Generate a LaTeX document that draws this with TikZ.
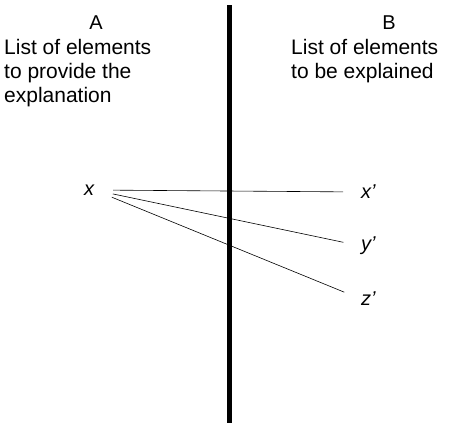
\documentclass[tikz,border=0pt]{standalone}
\usepackage{fontspec}
\setmainfont{Liberation Sans}
\usetikzlibrary{positioning}

\begin{document}
\begin{tikzpicture}[
  x=1pt,y=-1pt,
  node distance=4pt and 0pt,
  head/.style={inner sep=0pt,font=\fontsize{20}{22}\selectfont},
  list/.style={inner sep=0pt,align=left,font=\fontsize{21}{24}\selectfont},
  elem/.style={inner sep=0pt,font=\fontsize{20}{24}\selectfont\itshape},
  link/.style={line width=0.6pt,shorten <=19pt,shorten >=18pt}
]
  \useasboundingbox (0,0) rectangle (454,426);

  % column A
  \node[head] (headA) at (96,23) {A};
  \node[list,anchor=north west] (listA) at (4,39)
    {List of elements\\to provide the\\explanation};

  % column B
  \node[head] (headB) at (389,23) {B};
  \node[list,anchor=north west] (listB) at (291,39)
    {List of elements\\to be explained};

  % elements
  \node[elem] (x) at (89,190) {x};
  \node[elem,anchor=west] (xp) at (361,192) {x’};
  \node[elem,anchor=west] (yp) at (361,246) {y’};
  \node[elem,anchor=west] (zp) at (361,299) {z’};

  \draw[link] (x.east) -- (xp.west);
  \draw[link] (x.east) -- (yp.west);
  \draw[link] (x.east) -- (zp.west);

  % divider
  \coordinate (top) at (229,5);
  \coordinate (bot) at (229,423);
  \draw[line width=5pt] (top) -- (bot);
\end{tikzpicture}
\end{document}
